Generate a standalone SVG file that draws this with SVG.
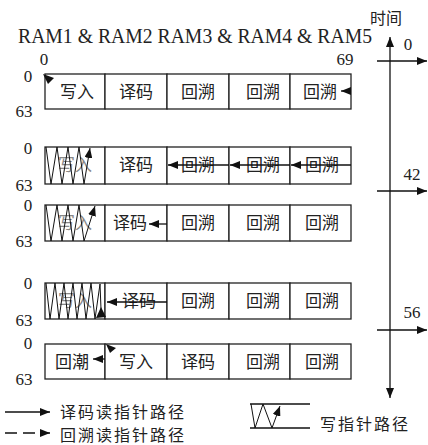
<svg xmlns="http://www.w3.org/2000/svg" width="428" height="445" viewBox="0 0 428 445">
<defs>
<style>
.cell{fill:#fff;stroke:#222;stroke-width:1.3}
.cn{font-family:"Noto Sans CJK SC","Noto Sans CJK JP",sans-serif;font-size:17px;fill:#222;text-anchor:middle}
.lg{font-family:"Noto Sans CJK SC","Noto Sans CJK JP",sans-serif;font-size:16px;letter-spacing:2px;fill:#222}
.num{font-family:"Liberation Serif","DejaVu Serif",serif;font-size:17px;fill:#222;text-anchor:middle}
.ln{stroke:#111;stroke-width:1.3;fill:none}
.zz{stroke:#111;stroke-width:1;fill:none}
.faint{fill:#888}
.ah{fill:#111}
</style>
<marker id="arr" viewBox="0 0 10 8" refX="10" refY="4" markerWidth="10" markerHeight="8" markerUnits="userSpaceOnUse" orient="auto-start-reverse"><path d="M0,0 L10,4 L0,8 z" fill="#111"/></marker>
</defs>
<rect width="428" height="445" fill="#fff"/>

<text x="18" y="43" font-family="Liberation Serif, DejaVu Serif, serif" font-size="20" fill="#222" textLength="354" lengthAdjust="spacingAndGlyphs">RAM1 &amp; RAM2 RAM3 &amp; RAM4 &amp; RAM5</text>
<text x="370" y="24" font-family="Noto Sans CJK SC, Noto Sans CJK JP, sans-serif" font-size="16" fill="#222">时间</text>

<text class="num" x="44" y="65">0</text>
<text class="num" x="345" y="65">69</text>
<text class="num" x="408" y="50">0</text>
<text class="num" x="412" y="180">42</text>
<text class="num" x="412" y="318">56</text>

<g id="row-labels">
<text class="num" x="28" y="82">0</text><text class="num" x="24" y="117">63</text>
<text class="num" x="28" y="154">0</text><text class="num" x="24" y="191">63</text>
<text class="num" x="28" y="211">0</text><text class="num" x="24" y="247">63</text>
<text class="num" x="28" y="289">0</text><text class="num" x="24" y="326">63</text>
<text class="num" x="28" y="349">0</text><text class="num" x="24" y="385">63</text>
</g>

<g id="row1">
<rect class="cell" x="45" y="74" width="60" height="35"/>
<rect class="cell" x="105" y="74" width="62" height="35"/>
<rect class="cell" x="167" y="74" width="62" height="35"/>
<rect class="cell" x="229" y="74" width="61" height="35"/>
<rect class="cell" x="290" y="74" width="61" height="35"/>
<text class="cn" x="77" y="98">写入</text>
<text class="cn" x="136" y="98">译码</text>
<text class="cn" x="198" y="98">回溯</text>
<text class="cn" x="263" y="98">回溯</text>
<text class="cn" x="320" y="98">回溯</text>
</g>

<g id="row2">
<rect class="cell" x="45" y="147" width="60" height="37"/>
<rect class="cell" x="105" y="147" width="62" height="37"/>
<rect class="cell" x="167" y="147" width="62" height="37"/>
<rect class="cell" x="229" y="147" width="61" height="37"/>
<rect class="cell" x="290" y="147" width="61" height="37"/>
<text class="cn faint" x="75" y="171">写入</text>
<text class="cn" x="136" y="171">译码</text>
<text class="cn" x="198" y="171">回溯</text>
<text class="cn" x="263" y="171">回溯</text>
<text class="cn" x="322" y="171">回溯</text>
</g>

<g id="row3">
<rect class="cell" x="45" y="205" width="60" height="36"/>
<rect class="cell" x="105" y="205" width="62" height="36"/>
<rect class="cell" x="167" y="205" width="62" height="36"/>
<rect class="cell" x="229" y="205" width="61" height="36"/>
<rect class="cell" x="290" y="205" width="61" height="36"/>
<text class="cn faint" x="75" y="229">写入</text>
<text class="cn" x="130" y="229">译码</text>
<text class="cn" x="198" y="229">回溯</text>
<text class="cn" x="263" y="229">回溯</text>
<text class="cn" x="322" y="229">回溯</text>
</g>

<g id="row4">
<rect class="cell" x="45" y="283" width="60" height="36"/>
<rect class="cell" x="105" y="283" width="62" height="36"/>
<rect class="cell" x="167" y="283" width="62" height="36"/>
<rect class="cell" x="229" y="283" width="61" height="36"/>
<rect class="cell" x="290" y="283" width="61" height="36"/>
<text class="cn faint" x="75" y="307">写入</text>
<text class="cn" x="139" y="307">译码</text>
<text class="cn" x="198" y="307">回溯</text>
<text class="cn" x="263" y="307">回溯</text>
<text class="cn" x="322" y="307">回溯</text>
</g>

<g id="row5">
<rect class="cell" x="45" y="344" width="60" height="35"/>
<rect class="cell" x="105" y="344" width="62" height="35"/>
<rect class="cell" x="167" y="344" width="62" height="35"/>
<rect class="cell" x="229" y="344" width="61" height="35"/>
<rect class="cell" x="290" y="344" width="61" height="35"/>
<text class="cn" x="72" y="368">回潮</text>
<text class="cn" x="136" y="368">写入</text>
<text class="cn" x="198" y="368">译码</text>
<text class="cn" x="263" y="368">回溯</text>
<text class="cn" x="322" y="368">回溯</text>
</g>

<g id="connectors">
<line class="ln" x1="390" y1="37" x2="390" y2="398" marker-start="url(#arr)" marker-end="url(#arr)"/>
<line class="ln" x1="377" y1="61" x2="427" y2="61" marker-end="url(#arr)"/>
<line class="ln" x1="377" y1="191" x2="427" y2="191" marker-end="url(#arr)"/>
<line class="ln" x1="377" y1="330" x2="427" y2="330" marker-end="url(#arr)"/>

<polygon class="ah" points="43,74 54,78 48,84"/>
<line class="ln" x1="351" y1="91" x2="341" y2="91" marker-end="url(#arr)"/>

<polyline class="zz" points="46,147 51,184 57,147 62,184 68,147 73,184 79,147 84,184"/>
<line class="zz" x1="84" y1="184" x2="90" y2="148" marker-end="url(#arr)"/>
<line class="ln" x1="351" y1="165" x2="291" y2="165" marker-end="url(#arr)"/>
<line class="ln" x1="290" y1="165" x2="230" y2="165" marker-end="url(#arr)"/>
<line class="ln" x1="229" y1="165" x2="168" y2="165" marker-end="url(#arr)"/>

<polyline class="zz" points="46,205 51,241 57,205 62,241 68,205 73,241 79,205 84,241"/>
<line class="zz" x1="84" y1="241" x2="95" y2="206" marker-end="url(#arr)"/>
<line class="ln" x1="167" y1="224" x2="149" y2="224" marker-end="url(#arr)"/>

<polyline class="zz" points="46,283 50,319 55,283 59,319 64,283 68,319 73,283 77,319 82,283 86,319 91,283 95,319 100,284 101,309"/>
<polygon class="ah" points="101,307 96,318 106,317"/>
<line class="ln" x1="167" y1="302" x2="107" y2="302" marker-end="url(#arr)"/>

<line class="ln" x1="105" y1="359" x2="93" y2="359" marker-end="url(#arr)"/>
<polygon class="ah" points="106,344 116,348 110,353"/>
</g>

<g id="legend">
<line class="ln" x1="5" y1="412" x2="50" y2="412" marker-end="url(#arr)"/>
<text class="lg" x="60" y="418">译码读指针路径</text>
<line class="ln" x1="5" y1="433" x2="50" y2="433" stroke-dasharray="12,6" marker-end="url(#arr)"/>
<text class="lg" x="60" y="441">回溯读指针路径</text>
<line class="ln" x1="250" y1="404" x2="310" y2="404"/>
<line class="ln" x1="250" y1="428" x2="310" y2="428"/>
<polyline class="zz" points="251,404 255,428 263,404 272,428"/>
<line class="zz" x1="272" y1="428" x2="280" y2="406" marker-end="url(#arr)"/>
<text class="lg" x="320" y="430">写指针路径</text>
</g>
</svg>
